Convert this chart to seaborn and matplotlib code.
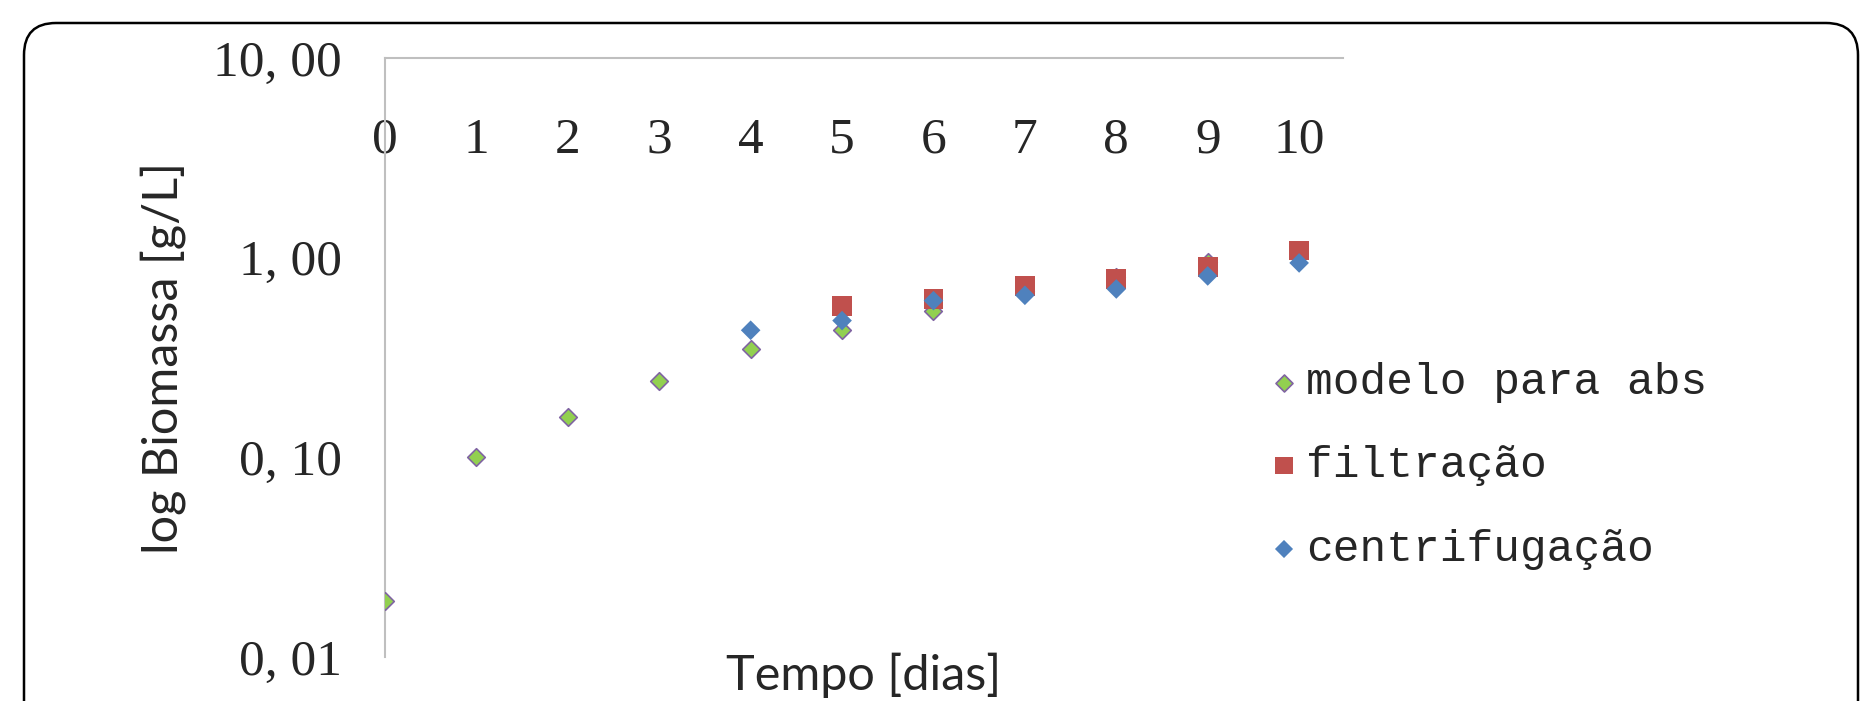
import numpy as np
import pandas as pd
import matplotlib
matplotlib.use("Agg")
import matplotlib.pyplot as plt
import seaborn as sns
from matplotlib.patches import FancyBboxPatch
from matplotlib.transforms import IdentityTransform

# Dados (leitura do gráfico)
dias_modelo = [0, 1, 2, 3, 4, 5, 6, 7, 8, 9]
modelo_abs = [0.019, 0.10, 0.16, 0.242, 0.349, 0.434, 0.541, 0.68, 0.80, 0.952]

dias_filtr = [5, 6, 7, 8, 9, 10]
filtracao = [0.573, 0.621, 0.721, 0.782, 0.901, 1.084]

dias_centr = [4, 5, 6, 7, 8, 9, 10]
centrifugacao = [0.433, 0.484, 0.609, 0.648, 0.697, 0.810, 0.941]

xticks = list(range(0, 11))
yticks = [0.01, 0.1, 1, 10]
ytick_labels = ["0, 01", "0, 10", "1, 00", "10, 00"]

sns.set_style("white")
plt.rcParams["font.family"] = ["Lato", "DejaVu Sans"]

fig = plt.figure(figsize=(18.61, 7.01), dpi=100)
ax = fig.add_axes([385 / 1861, 1 - 657 / 701, (1343 - 385) / 1861, (657 - 58) / 701])

df_m = pd.DataFrame({"dia": dias_modelo, "val": modelo_abs})
df_f = pd.DataFrame({"dia": dias_filtr, "val": filtracao})
df_c = pd.DataFrame({"dia": dias_centr, "val": centrifugacao})

sns.scatterplot(data=df_m, x="dia", y="val", ax=ax, marker="D", s=80, color="#92D050",
                edgecolor="#8064A2", linewidth=1.2, label="modelo para abs", zorder=3)
sns.scatterplot(data=df_f, x="dia", y="val", ax=ax, marker="s", s=200, color="#C0504D",
                edgecolor="none", linewidth=0, label="filtração", zorder=4)
sns.scatterplot(data=df_c, x="dia", y="val", ax=ax, marker="D", s=100, color="#4F81BD",
                edgecolor="none", linewidth=0, label="centrifugação", zorder=5)

ax.set_yscale("log")
ax.set_ylim(0.01, 10)
ax.set_xlim(0, 10.48)
ax.set_xticks(xticks)
ax.set_xticklabels([str(t) for t in xticks], fontfamily="Liberation Serif", fontsize=37)
ax.set_yticks(yticks)
ax.set_yticklabels(ytick_labels, fontfamily="Liberation Serif", fontsize=37)
ax.yaxis.set_minor_locator(matplotlib.ticker.NullLocator())
ax.tick_params(axis="x", top=True, labeltop=True, bottom=False, labelbottom=False,
               length=0, pad=-76)
ax.tick_params(axis="y", length=0, pad=31)

for side in ["right", "bottom"]:
    ax.spines[side].set_visible(False)
for side in ["left", "top"]:
    ax.spines[side].set_color("#BFBFBF")
    ax.spines[side].set_linewidth(1.5)
ax.grid(False)
ax.set_facecolor("none")

ax.set_xlabel("Tempo [dias]", fontsize=35)
ax.xaxis.set_label_position("bottom")
ax.xaxis.label.set_va("center")
ax.xaxis.set_label_coords(0.5, -0.030)
ax.set_ylabel("log Biomassa [g/L]", fontsize=35)
ax.yaxis.label.set_va("center")
ax.yaxis.set_label_coords((163 - 385) / 958, 0.5)

leg = ax.legend(loc="upper left", bbox_to_anchor=(1244 / 1861, 1 - 340 / 701),
                bbox_transform=fig.transFigure, frameon=False,
                prop={"family": "Liberation Mono", "size": 32},
                handletextpad=0.1, handlelength=0.8, labelspacing=0.95, borderpad=0)
tamanhos = [75, 150, 85]
for h, tam in zip(leg.legend_handles, tamanhos):
    h.set_sizes([tam])

borda = FancyBboxPatch((24, -60), 1834, 738, boxstyle="round,pad=0,rounding_size=32",
                       transform=IdentityTransform(), facecolor="none",
                       edgecolor="black", linewidth=1.8)
fig.add_artist(borda)

fig.savefig("out.png", dpi=100)
